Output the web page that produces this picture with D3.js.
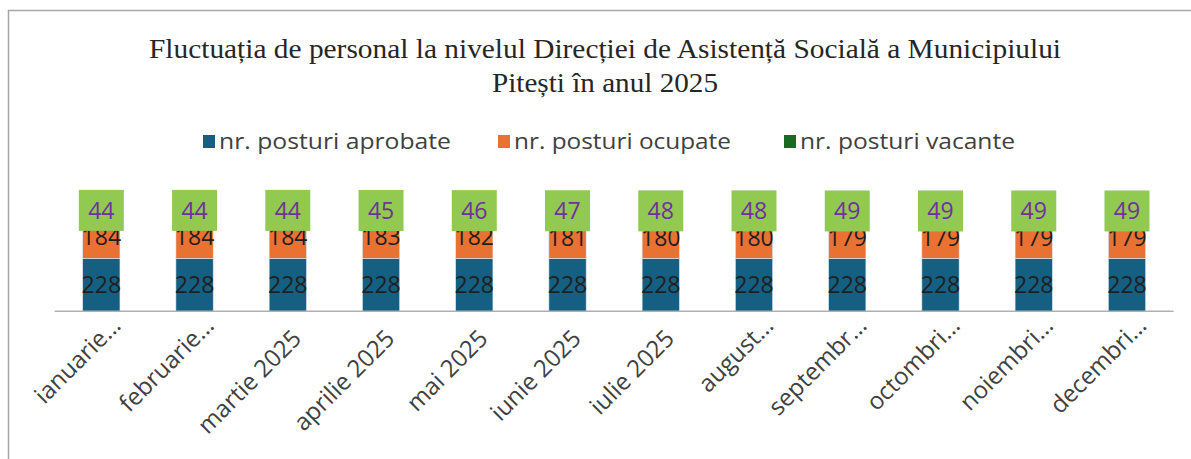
<!DOCTYPE html>
<html>
<head>
  <meta charset="utf-8">
  <title>Fluctuatia de personal</title>
  <script src="https://cdn.jsdelivr.net/npm/d3@7"></script>
  <style>
    body { margin: 0; background: #fff; }
    .title { font-family: "Liberation Serif", "Times New Roman", serif; font-size: 28px; fill: #262626; }
    .legend text, .axis text, .lbl { font-family: "Open Sans", sans-serif; }
  </style>
</head>
<body>
  <div id="chart"></div>
  <script>
    // Data
    var months = ["ianuarie…", "februarie…", "martie 2025", "aprilie 2025", "mai 2025", "iunie 2025",
                  "iulie 2025", "august…", "septembr…", "octombri…", "noiembri…", "decembri…"];
    var aprobate = [228, 228, 228, 228, 228, 228, 228, 228, 228, 228, 228, 228];
    var ocupate  = [184, 184, 184, 183, 182, 181, 180, 180, 179, 179, 179, 179];
    var vacante  = [44, 44, 44, 45, 46, 47, 48, 48, 49, 49, 49, 49];
    var seriesNames = ["nr. posturi aprobate", "nr. posturi ocupate", "nr. posturi vacante"];

    var W = 1191, H = 459;
    var colors = ["#156082", "#E97132", "#196B24"];

    var svg = d3.select("#chart").append("svg")
      .attr("width", W).attr("height", H);

    // chart frame (runs past the right and bottom edge)
    svg.append("rect")
      .attr("x", 8.5).attr("y", 10.5)
      .attr("width", W + 20).attr("height", H + 20)
      .attr("fill", "none").attr("stroke", "#a6a6a6").attr("stroke-width", 1.5);

    // title
    var title = svg.append("text").attr("class", "title").attr("text-anchor", "middle");
    title.append("tspan").attr("x", 605).attr("y", 57.5)
      .attr("textLength", 912).attr("lengthAdjust", "spacingAndGlyphs")
      .text("Fluctuația de personal la nivelul Direcției de Asistență Socială a Municipiului");
    title.append("tspan").attr("x", 605).attr("y", 91.5)
      .attr("textLength", 226).attr("lengthAdjust", "spacingAndGlyphs")
      .text("Pitești în anul 2025");

    // legend
    var legX = [203, 498, 784];
    var legW = [232, 217, 215];
    var leg = svg.append("g").attr("class", "legend");
    seriesNames.forEach(function(n, i) {
      leg.append("rect").attr("x", legX[i]).attr("y", 135).attr("width", 12).attr("height", 13)
        .attr("fill", colors[i]);
      leg.append("text").attr("x", legX[i] + 16).attr("y", 148.5)
        .attr("font-size", 21).attr("fill", "#404040")
        .attr("textLength", legW[i]).attr("lengthAdjust", "spacingAndGlyphs")
        .text(n);
    });

    // scales
    var x = d3.scaleBand().domain(months).range([54.7, 1173.6])
      .paddingInner(0.6).paddingOuter(0.3);
    var y = d3.scaleLinear().domain([0, 500]).range([311.3, 195.05]);

    var rows = months.map(function(m, i) {
      return { month: m, a: aprobate[i], o: ocupate[i], v: vacante[i] };
    });
    var stack = d3.stack().keys(["a", "o", "v"])(rows);

    var g = svg.append("g");
    g.selectAll("g.series").data(stack).enter().append("g")
      .attr("fill", function(d, i) { return colors[i]; })
      .selectAll("rect").data(function(d) { return d; }).enter().append("rect")
        .attr("x", function(d) { return x(d.data.month); })
        .attr("width", x.bandwidth())
        .attr("y", function(d) { return y(d[1]); })
        .attr("height", function(d) { return y(d[0]) - y(d[1]); })
        .attr("stroke", "#dfe8ee").attr("stroke-width", 0.6);

    // axis line
    svg.append("line").attr("x1", 54.7).attr("x2", 1173.6)
      .attr("y1", y(0)).attr("y2", y(0))
      .attr("stroke", "#b0b0b0").attr("stroke-width", 1.5);

    // data labels: aprobate and ocupate
    [0, 1].forEach(function(k) {
      g.selectAll("text.l" + k).data(stack[k]).enter().append("text")
        .attr("class", "lbl")
        .attr("x", function(d) { return x(d.data.month) + x.bandwidth() / 2; })
        .attr("y", function(d) { return (y(d[0]) + y(d[1])) / 2; })
        .attr("dy", "0.36em")
        .attr("text-anchor", "middle").attr("font-size", 23).attr("fill", "#1f1f1f")
        .text(function(d) { return d[1] - d[0]; });
    });

    // vacante labels in filled boxes
    var vl = g.selectAll("g.vl").data(stack[2]).enter().append("g")
      .attr("transform", function(d) {
        return "translate(" + (x(d.data.month) + x.bandwidth() / 2) + "," + ((y(d[0]) + y(d[1])) / 2) + ")";
      });
    vl.append("rect").attr("x", -22.5).attr("y", -20.5).attr("width", 45).attr("height", 41)
      .attr("fill", "#92C950");
    vl.append("text").attr("class", "lbl").attr("text-anchor", "middle").attr("dy", "0.36em")
      .attr("font-size", 23).attr("fill", "#7030A0")
      .text(function(d) { return d[1] - d[0]; });

    // category labels (truncated ones sit a little differently, as in the source)
    var ax = svg.append("g").attr("class", "axis");
    ax.selectAll("text").data(months).enter().append("text")
      .attr("transform", function(d) {
        var c = x(d) + x.bandwidth() / 2;
        var cut = d.slice(-1) === "…";
        return "translate(" + (c + (cut ? 21 : 15)) + "," + (cut ? 327 : 340) + ") rotate(-45)";
      })
      .attr("text-anchor", "end").attr("font-size", 24).attr("fill", "#404040")
      .text(function(d) { return d; });
  </script>
</body>
</html>
